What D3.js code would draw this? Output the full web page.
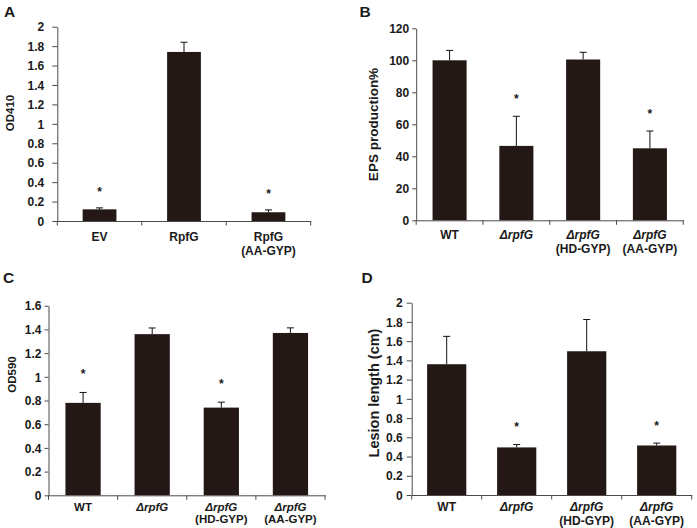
<!DOCTYPE html>
<html>
<head>
<meta charset="utf-8">
<script src="https://cdn.jsdelivr.net/npm/d3@7/dist/d3.min.js"></script>
<style>
  html, body { margin: 0; padding: 0; background: #fff; }
  svg { display: block; }
  text { font-family: "Liberation Sans", Arial, Helvetica, sans-serif; font-weight: bold; fill: #1a1a1a; }
</style>
</head>
<body>
<svg id="chart" width="697" height="528"></svg>
<script>
// ---------------- DATA ----------------
// Panel A
const categoriesA = ["EV", "RpfG", "RpfG|(AA-GYP)"];
const valuesA = [0.12, 1.74, 0.09];
const errorsA = [0.015, 0.10, 0.024];
const signifA = [true, false, true];
const yTicksA = [0, 0.2, 0.4, 0.6, 0.8, 1, 1.2, 1.4, 1.6, 1.8, 2];
const yTitleA = "OD410";

// Panel B
const categoriesB = ["WT", "ΔrpfG", "ΔrpfG|(HD-GYP)", "ΔrpfG|(AA-GYP)"];
const valuesB = [100, 46.5, 100.5, 45];
const errorsB = [6.2, 18.5, 4.5, 10.8];
const signifB = [false, true, false, true];
const yTicksB = [0, 20, 40, 60, 80, 100, 120];
const yTitleB = "EPS production%";

// Panel C
const categoriesC = ["WT", "ΔrpfG", "ΔrpfG|(HD-GYP)", "ΔrpfG|(AA-GYP)"];
const valuesC = [0.78, 1.36, 0.74, 1.37];
const errorsC = [0.088, 0.052, 0.046, 0.043];
const signifC = [true, false, true, false];
const yTicksC = [0, 0.2, 0.4, 0.6, 0.8, 1, 1.2, 1.4, 1.6];
const yTitleC = "OD590";

// Panel D
const categoriesD = ["WT", "ΔrpfG", "ΔrpfG|(HD-GYP)", "ΔrpfG|(AA-GYP)"];
const valuesD = [1.36, 0.495, 1.495, 0.515];
const errorsD = [0.29, 0.03, 0.33, 0.025];
const signifD = [false, true, false, true];
const yTicksD = [0, 0.2, 0.4, 0.6, 0.8, 1, 1.2, 1.4, 1.6, 1.8, 2];
const yTitleD = "Lesion length (cm)";

// ---------------- LAYOUT ----------------
const panels = [
  { letter: "A", lx: 4, ly: 16.5, cats: categoriesA, vals: valuesA, errs: errorsA, sig: signifA, ticks: yTicksA, title: yTitleA,
    x0: 57.3, x1: 310.7, yTop: 26.7, yBot: 221, pad: 0.6, tickLen: 5, tickPad: 8,
    titleX: 14, titleY: 113, titleSize: 11.5, lab1: 19.5, lab2: 33.5, labSize: 12, starGap: 18 },
  { letter: "B", lx: 359.5, ly: 16.8, cats: categoriesB, vals: valuesB, errs: errorsB, sig: signifB, ticks: yTicksB, title: yTitleB,
    x0: 416.2, x1: 683.3, yTop: 28.3, yBot: 220.3, pad: 0.49, tickLen: 4, tickPad: 3,
    titleX: 378, titleY: 124.5, titleSize: 13.5, lab1: 19, lab2: 32.5, labSize: 12, starGap: 20 },
  { letter: "C", lx: 3, ly: 283, cats: categoriesC, vals: valuesC, errs: errorsC, sig: signifC, ticks: yTicksC, title: yTitleC,
    x0: 48.5, x1: 325, yTop: 305.7, yBot: 495.3, pad: 0.49, tickLen: 4, tickPad: 3,
    titleX: 15.5, titleY: 374.5, titleSize: 11.5, lab1: 15.7, lab2: 27.5, labSize: 11.5, starGap: 21 },
  { letter: "D", lx: 361.5, ly: 283.3, cats: categoriesD, vals: valuesD, errs: errorsD, sig: signifD, ticks: yTicksD, title: yTitleD,
    x0: 411.7, x1: 691.7, yTop: 302.7, yBot: 495, pad: 0.44, tickLen: 5, tickPad: 4,
    titleX: 379, titleY: 393, titleSize: 14.5, lab1: 15.5, lab2: 29.5, labSize: 12, starGap: 20 }
];

const BAR = "#231815";
const AXIS = "#4a4a4a";

const svg = d3.select("#chart");

panels.forEach(p => {
  const g = svg.append("g");
  const data = p.cats.map((c, i) => ({ cat: c, v: p.vals[i], e: p.errs[i], s: p.sig[i] }));

  const x = d3.scaleBand().domain(p.cats).range([p.x0, p.x1]).paddingInner(p.pad).paddingOuter(p.pad / 2);
  const y = d3.scaleLinear().domain([0, d3.max(p.ticks)]).range([p.yBot, p.yTop]);

  // panel letter
  g.append("text").attr("x", p.lx).attr("y", p.ly).attr("font-size", 15.5).text(p.letter);

  // bars
  g.selectAll("rect.bar").data(data).join("rect")
    .attr("class", "bar")
    .attr("x", d => x(d.cat))
    .attr("y", d => y(d.v))
    .attr("width", x.bandwidth())
    .attr("height", d => y(0) - y(d.v))
    .attr("fill", BAR);

  // error bars (upper only)
  const cap = 3.5;
  data.forEach(d => {
    const cx = x(d.cat) + x.bandwidth() / 2;
    g.append("line").attr("x1", cx).attr("x2", cx).attr("y1", y(d.v)).attr("y2", y(d.v + d.e))
      .attr("stroke", "#111").attr("stroke-width", 1);
    g.append("line").attr("x1", cx - cap).attr("x2", cx + cap).attr("y1", y(d.v + d.e)).attr("y2", y(d.v + d.e))
      .attr("stroke", "#111").attr("stroke-width", 1);
    if (d.s) {
      g.append("text").attr("x", cx).attr("y", y(d.v + d.e) - p.starGap + 6.5)
        .attr("text-anchor", "middle").attr("font-size", 12).text("*");
    }
  });

  // y axis
  const yAxis = d3.axisLeft(y).tickValues(p.ticks).tickFormat(d => String(d))
    .tickSize(p.tickLen).tickSizeOuter(0).tickPadding(p.tickPad);
  const ya = g.append("g").attr("transform", `translate(${p.x0},0)`).call(yAxis);
  ya.selectAll("path, line").attr("stroke", AXIS);
  ya.selectAll("text").attr("font-size", 12).attr("font-family", null).attr("fill", "#1a1a1a").attr("dy", "0.35em");

  // x axis line
  const xa = g.append("g").attr("transform", `translate(0,${p.yBot})`)
    .call(d3.axisBottom(x).tickSize(0).tickFormat(""));
  xa.select(".domain").attr("stroke", AXIS);
  xa.selectAll(".tick").remove();

  // x boundary ticks
  const bounds = d3.range(p.cats.length + 1).map(i => p.x0 + i * x.step());
  g.selectAll("line.xb").data(bounds).join("line")
    .attr("class", "xb")
    .attr("x1", d => d).attr("x2", d => d)
    .attr("y1", p.yBot).attr("y2", p.yBot + 4.5)
    .attr("stroke", AXIS);

  // x labels
  data.forEach(d => {
    const cx = x(d.cat) + x.bandwidth() / 2;
    const lines = d.cat.split("|");
    lines.forEach((ln, j) => {
      g.append("text").attr("x", cx).attr("y", p.yBot + (j === 0 ? p.lab1 : p.lab2))
        .attr("text-anchor", "middle").attr("font-size", p.labSize)
        .attr("font-style", ln.startsWith("Δ") ? "italic" : "normal")
        .text(ln);
    });
  });

  // y title
  g.append("text").attr("transform", `translate(${p.titleX},${p.titleY}) rotate(-90)`)
    .attr("text-anchor", "middle").attr("font-size", p.titleSize).text(p.title);
});
</script>
</body>
</html>
